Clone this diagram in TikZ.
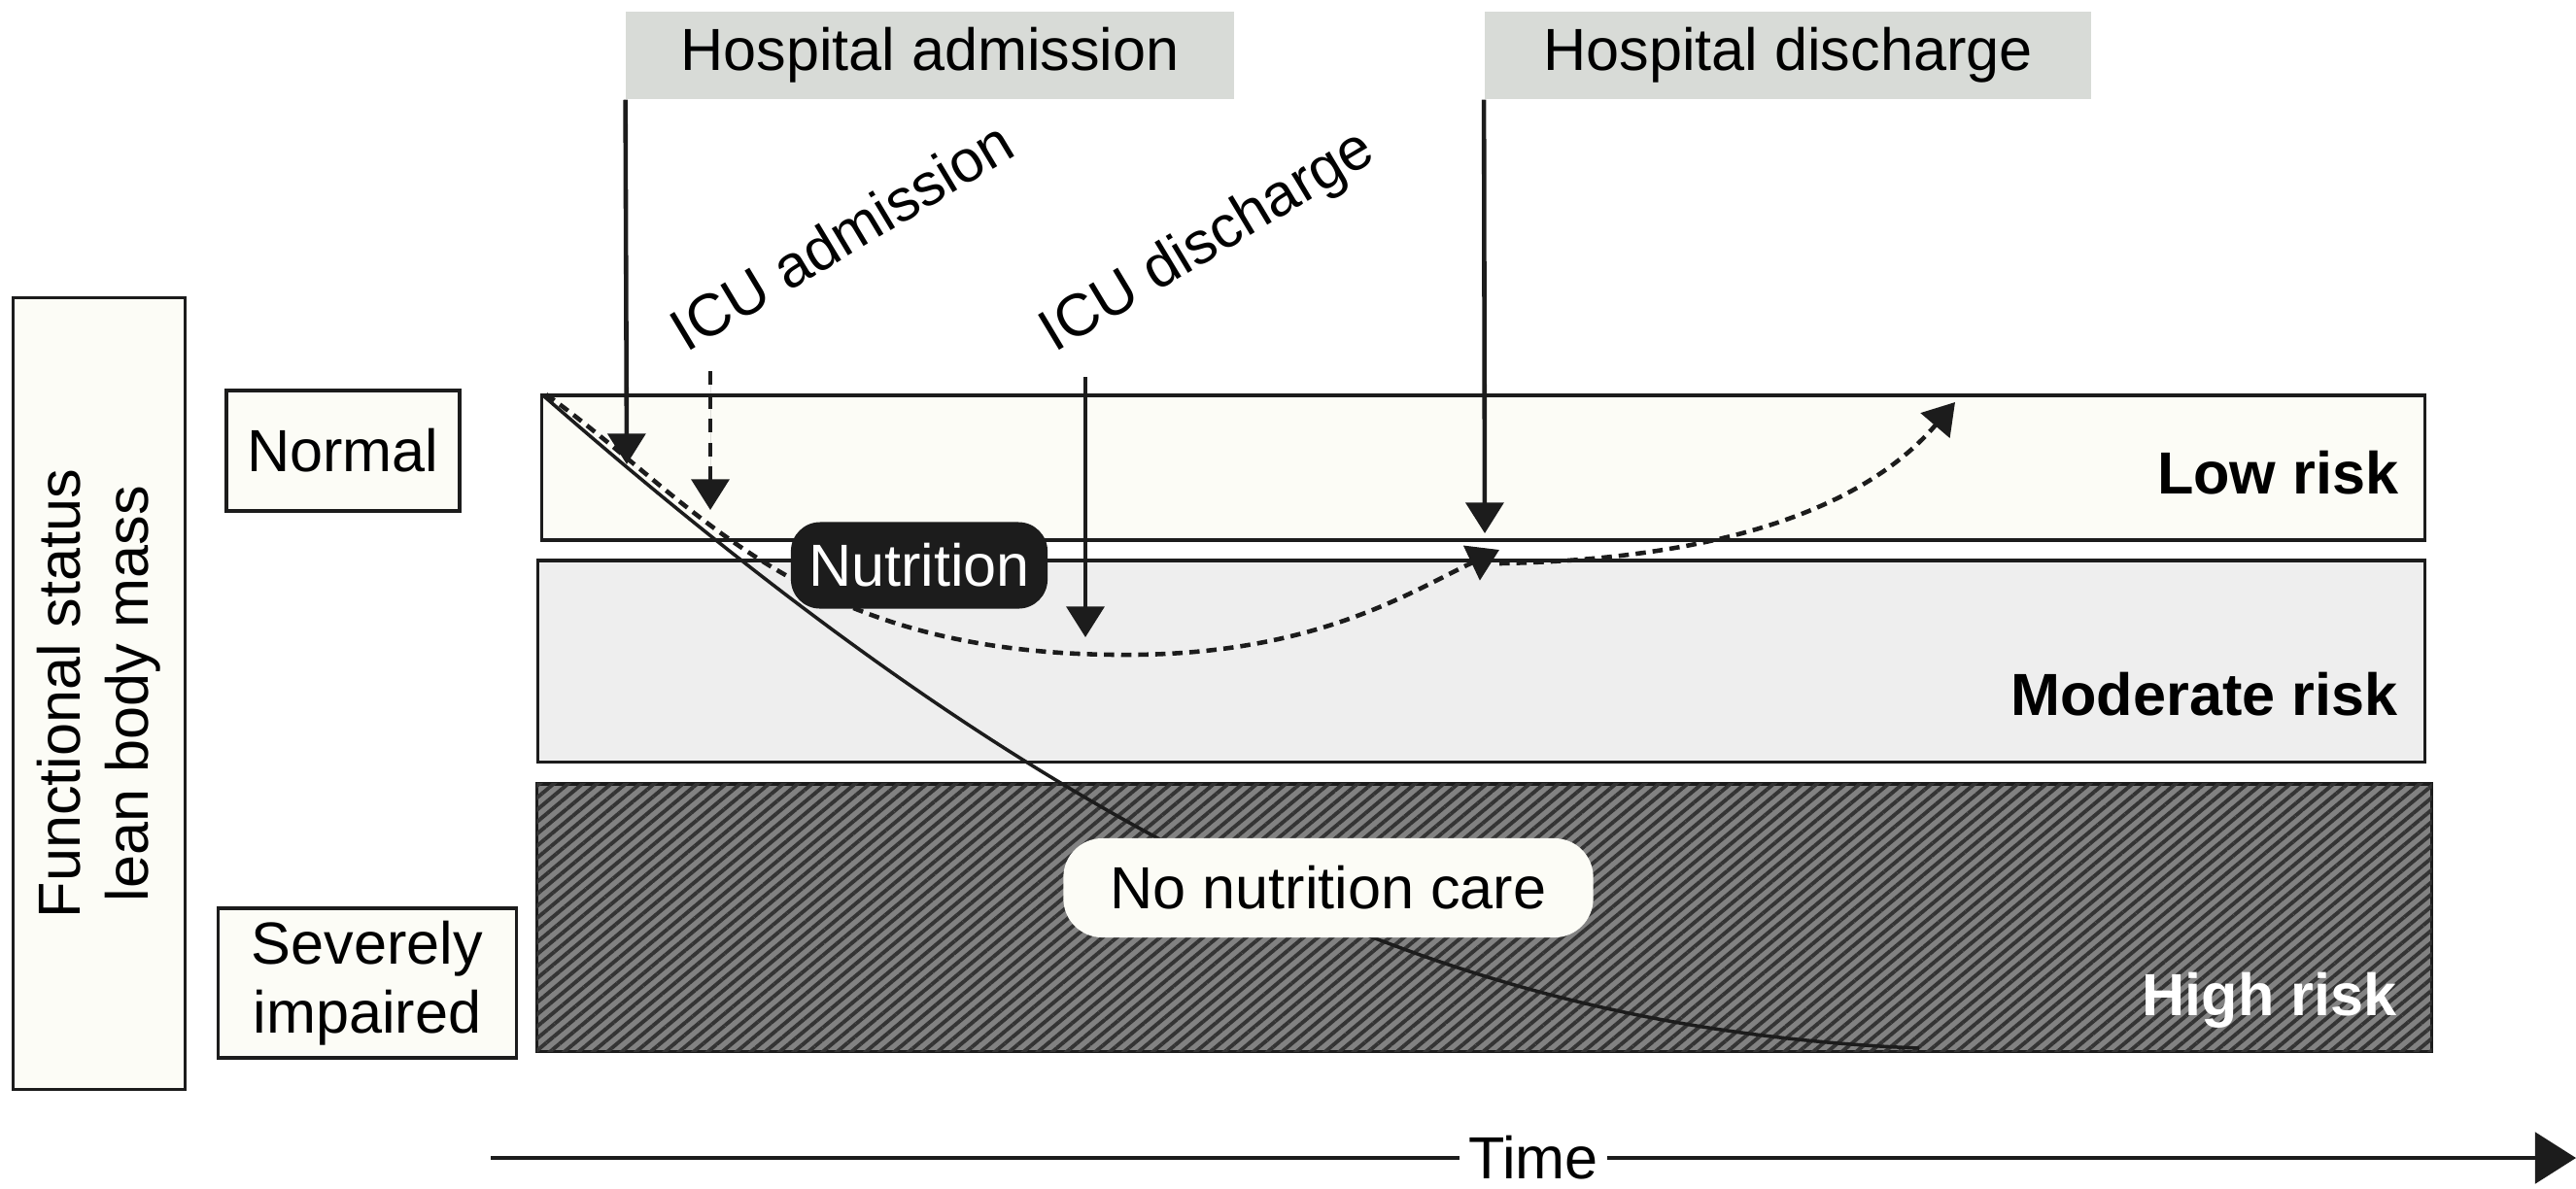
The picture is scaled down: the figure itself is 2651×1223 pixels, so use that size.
\documentclass[tikz,border=0pt]{standalone}
\usepackage{fontspec}
\setmainfont{Liberation Sans}
\usetikzlibrary{arrows.meta,patterns.meta}
\definecolor{cream}{RGB}{252,252,246}
\definecolor{midgrey}{RGB}{238,238,238}
\definecolor{hospgrey}{RGB}{216,219,215}
\definecolor{hatchbg}{RGB}{130,130,130}
\definecolor{hatchfg}{RGB}{52,52,52}
\definecolor{inkblack}{RGB}{28,28,28}

\begin{document}
\begin{tikzpicture}[x=0.01cm, y=-0.01cm, >={Triangle[length=9pt,width=11pt]},
    font=\fontsize{17.4}{20}\selectfont,
    box/.style={draw=inkblack, line width=0.9pt, fill=cream, align=center, inner sep=0pt},
    hosp/.style={fill=hospgrey, inner sep=0pt},
    band/.style={draw=inkblack, line width=0.9pt, inner sep=0pt},
    risk/.style={anchor=base east, inner sep=0pt, font=\fontsize{17.4}{20}\selectfont\bfseries},
    arr/.style={->, line width=1.3pt, draw=inkblack, fill=inkblack},
    dots/.style={->, line width=1.3pt, draw=inkblack, dash pattern=on 3pt off 2pt}]
\useasboundingbox (0,0) rectangle (2651,1223);

\node[box, rotate=90, minimum width=8.15cm, minimum height=1.77cm] (FS) at (102,714) {Functional status\\lean body mass};
\node[box, minimum width=2.40cm, minimum height=1.24cm] (NO) at (353,464) {Normal};
\node[box, minimum width=3.06cm, minimum height=1.54cm] (SI) at (378,1012) {Severely\\impaired};

\node[hosp, minimum width=6.25cm, minimum height=0.90cm] (HA) at (957,57) {Hospital admission};
\node[hosp, minimum width=6.24cm, minimum height=0.90cm] (HD) at (1840,57) {Hospital discharge};

\node[band, fill=cream, minimum width=19.37cm, minimum height=1.49cm] (LR) at (1526.5,481.5) {};
\node[band, fill=midgrey, minimum width=19.41cm, minimum height=2.07cm] (MR) at (1524.5,680.5) {};
\node[band, fill=hatchbg, postaction={pattern={Lines[angle=40,distance=2.7pt,line width=1.1pt]}, pattern color=hatchfg},
      minimum width=19.49cm, minimum height=2.75cm] (HR) at (1527.5,944.5) {};
\node[risk] (LRt) at (2469,508) {Low risk};
\node[risk] (MRt) at (2468,736) {Moderate risk};
\node[risk, text=white] (HRt) at (2467,1045) {High risk};

\coordinate (C0) at (560,408);
\coordinate (C1) at (1975,1079);
\draw[line width=1pt, inkblack] (C0) .. controls (1100,880) and (1500,1060) .. (C1);

\coordinate (D0) at (562,406);
\coordinate (D1) at (1150,674);
\coordinate (D2) at (1543,566);
\draw[dots] (D0) .. controls (720,520) and (820,672) .. (D1) .. controls (1350,676) and (1450,610) .. (D2);
\coordinate (E0) at (1543,580);
\coordinate (E1) at (2012,414);
\draw[dots] (E0) .. controls (1800,575) and (1930,510) .. (E1);

\node[fill=inkblack, text=white, rounded corners=0.3cm, minimum width=2.64cm, minimum height=0.89cm, inner sep=0pt] (NU) at (946,582) {Nutrition};
\node[fill=cream, rounded corners=0.4cm, minimum width=5.45cm, minimum height=1.02cm, inner sep=0pt] (NN) at (1367,914) {No nutrition care};

\node[rotate=31, anchor=base west, inner sep=0pt] (ICUa) at (706,364) {ICU admission};
\node[rotate=31, anchor=base west, inner sep=0pt] (ICUd) at (1085,364) {ICU discharge};

\coordinate (HAt) at (645,478);
\coordinate (IAs) at (731,382);
\coordinate (IAt) at (731,525);
\coordinate (IDs) at (1117,388);
\coordinate (IDt) at (1117,656);
\coordinate (HDt) at (1528,549);
\draw[arr] (HA.south west) -- (HAt);
\draw[arr, dash pattern=on 4pt off 3pt] (IAs) -- (IAt);
\draw[arr] (IDs) -- (IDt);
\draw[arr] (HD.south west) -- (HDt);

\coordinate (T0) at (505,1192);
\coordinate (T1) at (2651,1192);
\node[inner xsep=2.3pt, inner ysep=0pt] (TM) at (1578,1192) {Time};
\draw[line width=1pt, inkblack] (T0) -- (TM.west);
\draw[line width=1pt, inkblack, -{Triangle[length=12pt,width=15pt]}] (TM.east) -- (T1);

\end{tikzpicture}
\end{document}
